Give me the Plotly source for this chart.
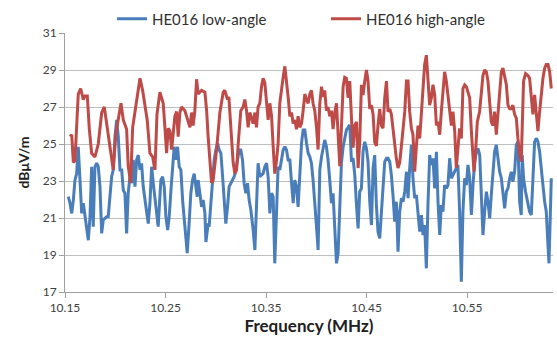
import plotly.graph_objects as go

# ---- data ----
freq_low = [10.1533, 10.1550, 10.1567, 10.1583, 10.1599, 10.1616, 10.1632, 10.1649, 10.1666, 10.1682,
            10.1699, 10.1716, 10.1732, 10.1749, 10.1765, 10.1781, 10.1798, 10.1815, 10.1831, 10.1848,
            10.1865, 10.1881, 10.1915, 10.1930, 10.1947, 10.1964, 10.1980, 10.1997, 10.2014, 10.2030,
            10.2047, 10.2064, 10.2080, 10.2096, 10.2113, 10.2129, 10.2146, 10.2163, 10.2179, 10.2196,
            10.2213, 10.2229, 10.2246, 10.2262, 10.2278, 10.2295, 10.2312, 10.2328, 10.2345, 10.2362,
            10.2378, 10.2395, 10.2411, 10.2427, 10.2454, 10.2471, 10.2487, 10.2504, 10.2521, 10.2537,
            10.2554, 10.2571, 10.2586, 10.2603, 10.2620, 10.2636, 10.2653, 10.2670, 10.2686, 10.2703,
            10.2716, 10.2733, 10.2752, 10.2769, 10.2785, 10.2802, 10.2815, 10.2825, 10.2842, 10.2859,
            10.2875, 10.2892, 10.2902, 10.2915, 10.2924, 10.2934, 10.2951, 10.2968, 10.2984, 10.3001,
            10.3018, 10.3034, 10.3051, 10.3068, 10.3083, 10.3100, 10.3117, 10.3133, 10.3150, 10.3183,
            10.3200, 10.3217, 10.3233, 10.3249, 10.3266, 10.3282, 10.3299, 10.3316, 10.3332, 10.3349,
            10.3366, 10.3372, 10.3389, 10.3405, 10.3421, 10.3438, 10.3471, 10.3488, 10.3505, 10.3521,
            10.3538, 10.3555, 10.3571, 10.3587, 10.3604, 10.3620, 10.3637, 10.3654, 10.3670, 10.3687,
            10.3704, 10.3720, 10.3737, 10.3754, 10.3770, 10.3786, 10.3803, 10.3819, 10.3836, 10.3853,
            10.3869, 10.3886, 10.3903, 10.3919, 10.3936, 10.3952, 10.3968, 10.3985, 10.4002, 10.4018,
            10.4035, 10.4052, 10.4068, 10.4084, 10.4101, 10.4117, 10.4134, 10.4151, 10.4167, 10.4184,
            10.4201, 10.4217, 10.4234, 10.4250, 10.4267, 10.4300, 10.4333, 10.4350, 10.4366, 10.4383,
            10.4400, 10.4416, 10.4432, 10.4449, 10.4465, 10.4482, 10.4499, 10.4515, 10.4532, 10.4549,
            10.4565, 10.4581, 10.4598, 10.4614, 10.4631, 10.4648, 10.4664, 10.4681, 10.4698, 10.4714,
            10.4731, 10.4747, 10.4763, 10.4780, 10.4797, 10.4813, 10.4830, 10.4847, 10.4863, 10.4880,
            10.4897, 10.4913, 10.4929, 10.4946, 10.4962, 10.4979, 10.4996, 10.5012, 10.5029, 10.5046,
            10.5062, 10.5078, 10.5095, 10.5111, 10.5128, 10.5145, 10.5161, 10.5178, 10.5195, 10.5211,
            10.5228, 10.5244, 10.5260, 10.5277, 10.5294, 10.5310, 10.5327, 10.5344, 10.5360, 10.5377,
            10.5393, 10.5409, 10.5426, 10.5443, 10.5459, 10.5476, 10.5493, 10.5509, 10.5526, 10.5543,
            10.5559, 10.5576, 10.5593, 10.5609, 10.5626, 10.5642, 10.5658, 10.5675, 10.5692, 10.5708,
            10.5725, 10.5741, 10.5757, 10.5774, 10.5791, 10.5807, 10.5824, 10.5841, 10.5857, 10.5874,
            10.5891, 10.5907, 10.5924, 10.5940, 10.5956, 10.5973, 10.5990, 10.6006, 10.6023, 10.6039,
            10.6049, 10.6062, 10.6082, 10.6105, 10.6122, 10.6139, 10.6155, 10.6172, 10.6188, 10.6205,
            10.6222, 10.6238, 10.6255, 10.6272, 10.6288, 10.6305, 10.6315, 10.6329, 10.6338]

low_angle = [22.15, 21.8, 21.25, 21.97, 23.05, 23.4, 24.85, 22.7, 21.25, 21.8,
             21.07, 20.53, 19.8, 21.07, 23.77, 20.53, 23.77, 23.96, 23.77, 22.7,
             20.17, 20.9, 21.07, 21.07, 22.34, 23.23, 23.6, 25.4, 26.3, 25.4,
             23.6, 23.6, 22.5, 22.34, 20.17, 22.34, 23.23, 22.88, 24.14, 22.7,
             24.14, 24.4, 23.6, 23.96, 22.7, 21.97, 21.25, 20.7, 21.8, 23.77,
             22.88, 22.15, 21.25, 20.53, 23.05, 23.23, 22.7, 21.07, 20.35, 21.07,
             22.5, 23.6, 24.85, 24.14, 24.85, 23.77, 23.6, 21.97, 20.9, 19.8,
             19.1, 20.53, 22.34, 23.05, 23.4, 22.7, 22.15, 23.05, 22.34, 21.6,
             21.97, 21.25, 19.7, 20.17, 20.7, 20.53, 21.97, 23.23, 24.14, 24.68,
             25.04, 24.68, 24.5, 23.23, 21.97, 20.7, 21.6, 22.7, 22.88, 23.23,
             23.6, 24.14, 24.68, 24.68, 24.14, 22.88, 22.34, 22.88, 21.97, 21.43,
             20.7, 20.35, 19.27, 21.97, 23.96, 23.23, 23.4, 23.77, 23.96, 23.23,
             21.25, 22.34, 22.15, 18.55, 21.43, 23.77, 23.6, 24.31, 24.68, 24.85,
             24.68, 24.14, 24.14, 22.88, 21.8, 23.05, 22.7, 21.6, 23.4, 25.04,
             25.76, 25.76, 25.04, 24.5, 24.31, 23.96, 23.05, 21.97, 20.53, 19.27,
             23.6, 24.31, 24.85, 25.22, 24.85, 24.14, 23.05, 21.8, 22.34, 20.53,
             18.55, 19.1, 21.97, 23.96, 24.85, 25.76, 26.03, 24.04, 24.23, 23.32,
             21.7, 20.44, 22.42, 22.6, 24.58, 25.12, 24.77, 24.04, 21.88, 20.62,
             23.69, 24.4, 21.7, 20.26, 19.9, 21.34, 23.15, 24.04, 24.23, 24.23,
             24.04, 23.32, 22.24, 20.8, 21.88, 19.18, 21.34, 22.07, 21.88, 22.42,
             23.5, 22.07, 23.69, 24.95, 23.15, 22.07, 22.24, 21.16, 20.26, 21.16,
             20.08, 20.62, 18.28, 21.7, 24.4, 23.87, 24.23, 22.6, 24.58, 21.88,
             20.08, 21.7, 21.34, 22.78, 22.6, 22.78, 24.23, 23.15, 23.32, 23.5,
             23.69, 23.87, 21.34, 17.56, 21.34, 23.15, 22.78, 23.87, 23.15, 21.16,
             22.78, 24.04, 24.58, 24.77, 24.4, 22.24, 20.08, 21.34, 22.42, 21.88,
             20.98, 22.24, 23.5, 24.58, 24.95, 24.23, 23.5, 23.15, 22.42, 21.52,
             22.42, 22.6, 23.15, 23.5, 22.96, 23.5, 24.95, 25.12, 21.88, 21.16,
             24.4, 23.15, 22.42, 21.7, 21.34, 21.16, 23.15, 25.12, 25.31, 25.12,
             24.58, 23.5, 22.78, 21.88, 21.34, 19.54, 18.55, 21.34, 23.15]

freq_high = [10.1550, 10.1567, 10.1583, 10.1599, 10.1632, 10.1656, 10.1682, 10.1699, 10.1722, 10.1742,
             10.1765, 10.1798, 10.1831, 10.1865, 10.1891, 10.1920, 10.1947, 10.1980, 10.2007, 10.2040,
             10.2057, 10.2080, 10.2113, 10.2129, 10.2153, 10.2173, 10.2196, 10.2229, 10.2246, 10.2272,
             10.2295, 10.2318, 10.2345, 10.2372, 10.2395, 10.2415, 10.2444, 10.2477, 10.2494, 10.2511,
             10.2527, 10.2544, 10.2561, 10.2593, 10.2610, 10.2626, 10.2643, 10.2660, 10.2693, 10.2710,
             10.2726, 10.2743, 10.2759, 10.2775, 10.2792, 10.2809, 10.2825, 10.2859, 10.2892, 10.2909,
             10.2924, 10.2941, 10.2958, 10.2974, 10.3008, 10.3041, 10.3074, 10.3090, 10.3117, 10.3130,
             10.3150, 10.3173, 10.3190, 10.3207, 10.3223, 10.3249, 10.3272, 10.3289, 10.3306, 10.3322,
             10.3339, 10.3372, 10.3389, 10.3405, 10.3421, 10.3438, 10.3455, 10.3471, 10.3488, 10.3505,
             10.3521, 10.3538, 10.3555, 10.3571, 10.3587, 10.3604, 10.3620, 10.3637, 10.3654, 10.3670,
             10.3687, 10.3704, 10.3720, 10.3737, 10.3754, 10.3770, 10.3786, 10.3803, 10.3819, 10.3836,
             10.3853, 10.3869, 10.3886, 10.3903, 10.3919, 10.3936, 10.3952, 10.3968, 10.3985, 10.4002,
             10.4018, 10.4035, 10.4052, 10.4068, 10.4084, 10.4101, 10.4117, 10.4134, 10.4151, 10.4167,
             10.4184, 10.4201, 10.4217, 10.4234, 10.4250, 10.4267, 10.4283, 10.4300, 10.4316, 10.4333,
             10.4350, 10.4366, 10.4383, 10.4400, 10.4416, 10.4432, 10.4449, 10.4465, 10.4482, 10.4499,
             10.4515, 10.4532, 10.4549, 10.4565, 10.4581, 10.4598, 10.4614, 10.4631, 10.4648, 10.4664,
             10.4681, 10.4698, 10.4714, 10.4731, 10.4747, 10.4763, 10.4780, 10.4797, 10.4813, 10.4830,
             10.4847, 10.4863, 10.4880, 10.4897, 10.4913, 10.4929, 10.4946, 10.4962, 10.4979, 10.4996,
             10.5012, 10.5029, 10.5046, 10.5062, 10.5078, 10.5095, 10.5111, 10.5128, 10.5145, 10.5161,
             10.5178, 10.5195, 10.5211, 10.5228, 10.5244, 10.5260, 10.5277, 10.5294, 10.5310, 10.5327,
             10.5344, 10.5360, 10.5377, 10.5393, 10.5409, 10.5426, 10.5443, 10.5459, 10.5476, 10.5493,
             10.5509, 10.5526, 10.5543, 10.5559, 10.5569, 10.5585, 10.5602, 10.5625, 10.5642, 10.5658,
             10.5675, 10.5692, 10.5708, 10.5725, 10.5741, 10.5757, 10.5774, 10.5791, 10.5807, 10.5824,
             10.5841, 10.5857, 10.5874, 10.5891, 10.5907, 10.5924, 10.5940, 10.5956, 10.5973, 10.5990,
             10.6006, 10.6023, 10.6039, 10.6049, 10.6062, 10.6082, 10.6105, 10.6122, 10.6139, 10.6155,
             10.6172, 10.6188, 10.6205, 10.6222, 10.6238, 10.6255, 10.6272, 10.6288, 10.6305, 10.6322,
             10.6338]

high_angle = [25.4, 25.5, 24.0, 24.1, 27.7, 28.0, 27.4, 27.6, 27.6, 25.8,
              24.5, 24.3, 25.0, 26.7, 27.0, 25.9, 25.0, 23.6, 25.6, 26.8,
              27.2, 26.3, 25.8, 23.8, 22.9, 25.9, 26.8, 28.1, 28.55, 27.9,
              27.2, 26.3, 24.5, 24.3, 23.6, 26.6, 27.8, 27.2, 25.9, 24.5,
              25.85, 25.7, 24.7, 26.5, 26.75, 25.4, 26.7, 27.0, 26.8, 26.5,
              26.3, 25.9, 26.7, 26.0, 26.8, 28.5, 27.7, 27.9, 27.8, 26.8,
              25.4, 24.1, 22.9, 23.05, 24.7, 26.7, 27.8, 27.9, 27.4, 27.55,
              25.6, 24.0, 23.4, 23.6, 25.0, 26.8, 27.0, 27.4, 26.8, 25.9,
              26.7, 26.1, 26.7, 25.9, 27.0, 27.2, 28.1, 28.55, 28.3, 27.2,
              26.3, 27.2, 26.5, 24.85, 23.4, 24.1, 25.0, 27.2, 28.1, 28.6,
              29.2, 28.5, 27.55, 26.5, 26.7, 26.1, 26.3, 25.8, 26.5, 25.9,
              26.1, 26.8, 27.7, 27.4, 27.2, 27.7, 27.9, 27.2, 26.8, 25.9,
              24.7, 27.2, 28.1, 27.55, 27.9, 26.8, 27.0, 26.5, 26.8, 25.8,
              26.7, 27.2, 25.4, 23.8, 25.9, 28.1, 28.6, 28.55, 27.5, 28.4,
              26.4, 24.8, 26.0, 26.2, 23.7, 25.1, 28.2, 27.65, 28.4, 29.0,
              28.4, 26.9, 27.1, 26.6, 25.1, 24.9, 26.0, 26.9, 26.0, 25.85,
              27.5, 28.4, 26.75, 26.9, 26.6, 25.7, 24.9, 24.2, 23.7, 24.0,
              24.9, 25.85, 26.75, 28.4, 28.4, 26.75, 25.85, 25.5, 23.5, 24.9,
              26.0, 25.3, 26.75, 28.2, 29.3, 29.8, 28.7, 27.1, 27.5, 28.2,
              27.65, 26.0, 26.2, 25.5, 26.75, 28.0, 28.9, 28.4, 27.5, 26.9,
              26.0, 26.75, 25.7, 23.7, 24.9, 25.85, 25.3, 28.0, 28.2, 28.1,
              27.8, 27.5, 25.7, 24.2, 23.5, 24.6, 26.2, 26.75, 27.65, 28.7,
              29.0, 28.9, 28.4, 27.3, 26.2, 26.0, 26.75, 25.5, 26.75, 28.0,
              28.9, 29.1, 28.7, 28.2, 27.1, 26.9, 26.9, 27.1, 26.6, 26.4,
              25.3, 24.4, 24.05, 26.75, 28.4, 28.8, 28.7, 28.55, 27.65, 26.6,
              27.65, 26.75, 25.7, 26.75, 27.65, 28.55, 29.1, 29.3, 29.3, 28.9,
              28.0]

series_names = ["HE016 low-angle", "HE016 high-angle"]
series_colors = ["#4A7EBB", "#BE4B48"]
x_ticks = [10.15, 10.25, 10.35, 10.45, 10.55]
x_tick_labels = ["10.15", "10.25", "10.35", "10.45", "10.55"]
y_ticks = [17, 19, 21, 23, 25, 27, 29, 31]

FONT = "Lato, 'Open Sans', Arial, sans-serif"

fig = go.Figure()
fig.add_trace(go.Scatter(x=freq_low, y=low_angle, mode="lines", name=series_names[0],
                         line=dict(color=series_colors[0], width=3), legend="legend"))
fig.add_trace(go.Scatter(x=freq_high, y=high_angle, mode="lines", name=series_names[1],
                         line=dict(color=series_colors[1], width=3), legend="legend2"))

legend_common = dict(orientation="h", xanchor="left", xref="container", yref="container",
                     y=1 - 19 / 349, yanchor="middle",
                     font=dict(family=FONT, size=15, color="#303030"),
                     bgcolor="rgba(0,0,0,0)")

fig.update_layout(
    width=557, height=349,
    margin=dict(l=65, r=4, t=33, b=57, autoexpand=False),
    paper_bgcolor="white", plot_bgcolor="white",
    font=dict(family=FONT, size=12, color="#404040"),
    showlegend=True,
    legend=dict(x=112 / 557, **legend_common),
    legend2=dict(x=326 / 557, **legend_common),
    xaxis=dict(range=[10.15, 10.6355], tickvals=x_ticks, ticktext=x_tick_labels,
               showgrid=False, zeroline=False, showline=True, linecolor="#A0A0A0", linewidth=1,
               ticks="outside", ticklen=5, tickcolor="#A0A0A0", automargin=False,
               tickfont=dict(family=FONT, size=12, color="#404040"),
               title=dict(text="<b>Frequency (MHz)</b>", font=dict(family=FONT, size=17, color="#202020"),
                          standoff=4)),
    yaxis=dict(range=[17, 31], tickvals=y_ticks,
               showgrid=True, gridcolor="#BFBFBF", gridwidth=1, zeroline=False,
               showline=True, linecolor="#A0A0A0", linewidth=1,
               ticks="outside", ticklen=5, tickcolor="#A0A0A0", automargin=False,
               tickfont=dict(family=FONT, size=12, color="#404040"),
               title=dict(text="<b>dBμV/m</b>", font=dict(family=FONT, size=14, color="#202020"),
                          standoff=9)),
)

fig.write_html("out.html", config={"displayModeBar": False},
               post_script="document.body.style.margin='0';document.body.style.overflow='hidden';")
